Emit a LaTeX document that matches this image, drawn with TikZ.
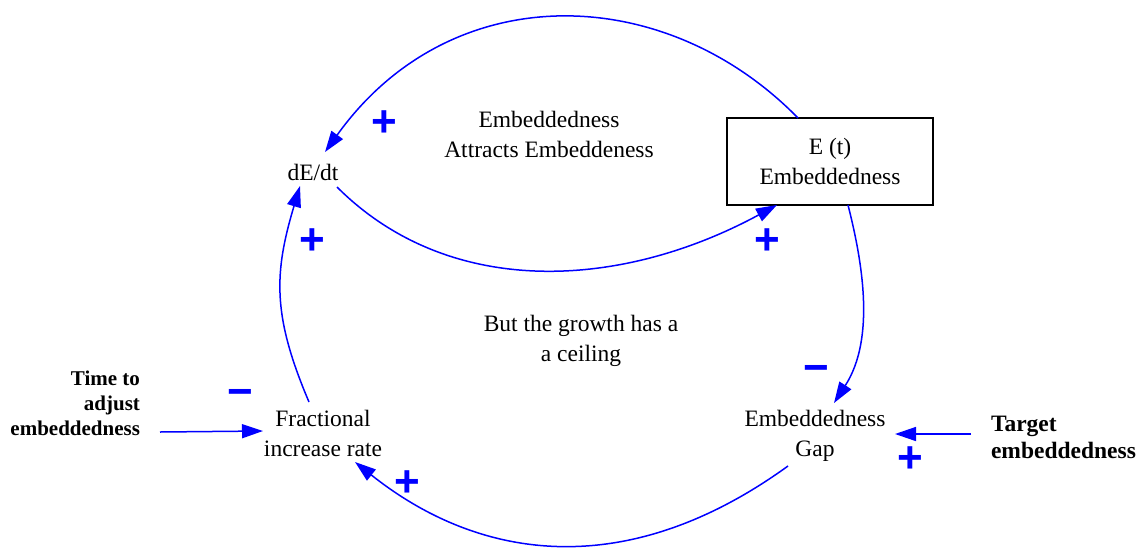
\documentclass[tikz,border=0pt]{standalone}
\usepackage{fontspec}
\setmainfont{Liberation Serif}
\newfontfamily\signfont{Liberation Sans}
\usetikzlibrary{arrows.meta}
\begin{document}
\begin{tikzpicture}[x=1pt,y=-1pt,
  every node/.style={inner sep=0pt, outer sep=0pt},
  var/.style={align=center, font=\fontsize{23.5}{30}\selectfont},
  ext/.style={font=\fontsize{23.5}{27}\selectfont\bfseries},
  stock/.style={var, draw, line width=1.5pt, minimum width=206pt, minimum height=87pt},
  link/.style={draw=blue, line width=1.5pt, -{Triangle[length=21pt,width=14pt]}},
  sign/.style={text=blue, font=\fontsize{44}{44}\selectfont\signfont\bfseries}
]
\useasboundingbox (0,0) rectangle (1144,550);

% variables
\node[var] (dedt) at (313,172) {dE/dt};
\node[stock] (Et) at (830,161.5) {E (t)\\Embeddedness};
\node[var] (frac) at (323,433) {Fractional\\increase rate};
\node[var] (gap) at (815,436) {Embeddedness\\Gap};
\node[ext, align=right, anchor=east, font=\fontsize{21}{25}\selectfont\bfseries] (time) at (140,403) {Time to\\adjust\\embeddedness};
\node[ext, align=left, anchor=west] (target) at (991,437.5) {Target\\embeddedness};

% loop labels
\node[var] (loopR) at (549,134) {Embeddedness\\Attracts Embeddeness};
\node[var] (loopB) at (581,341) {But the growth has a\\a ceiling};

% causal links
\draw[link] ([xshift=-32pt]Et.north) .. controls (665,-18) and (451,-24) .. ([shift={(12,-20)}]dedt.center);
\draw[link] ([shift={(24,15)}]dedt.center) .. controls (449,299) and (620,290) .. ([xshift=-53pt]Et.south);
\draw[link] ([xshift=18pt]Et.south) .. controls (862,260) and (876,338) .. ([shift={(19,-33)}]gap.center);
\draw[link] ([shift={(-27,30)}]gap.center) .. controls (629,581) and (482,563) .. ([shift={(32,29)}]frac.center);
\draw[link] ([shift={(-14,-31)}]frac.center) .. controls (272,315) and (274,273) .. ([shift={(-13,14)}]dedt.center);
\draw[link] ([shift={(20,29)}]time.east) -- ([shift={(-60,-2)}]frac.center);
\draw[link] ([shift={(-20,-3.5)}]target.west) -- ([shift={(80,-2)}]gap.center);

% polarities
\node[sign] (p1) at (384,124) {+};
\node[sign] (p2) at (312,242) {+};
\node[sign] (p3) at (767,242) {+};
\node[sign] (m1) at (816,374) {−};
\node[sign] (p4) at (910,460) {+};
\node[sign] (m2) at (240,398) {−};
\node[sign] (p5) at (407,484) {+};
\end{tikzpicture}
\end{document}
